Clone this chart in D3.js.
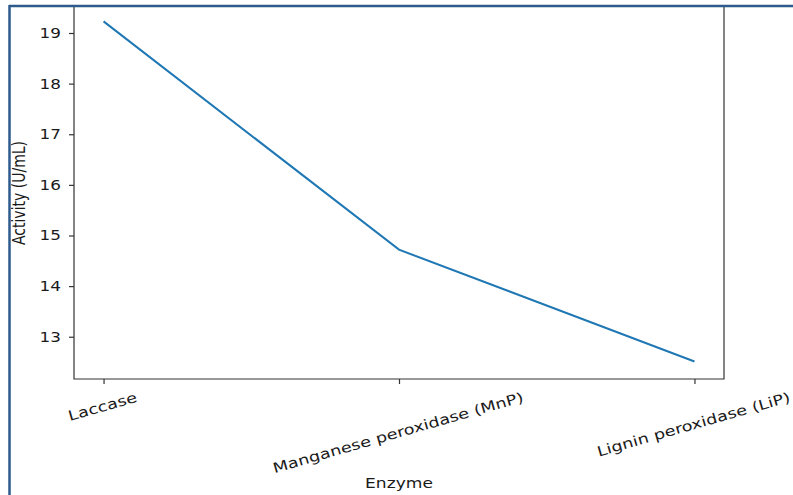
<!DOCTYPE html>
<html><head><meta charset="utf-8">
<script src="https://cdn.jsdelivr.net/npm/d3@7"></script>
<style>body{margin:0;background:#fff}svg{display:block}text{font-family:"DejaVu Sans",sans-serif;fill:#1a1a1a}</style>
</head><body>
<svg id="c" width="793" height="495"></svg>
<script>
const categories = ["Laccase", "Manganese peroxidase (MnP)", "Lignin peroxidase (LiP)"];
const activity = [19.23, 14.72, 12.51];
const yTicks = [13, 14, 15, 16, 17, 18, 19];
const xTitle = "Enzyme";
const yTitle = "Activity (U/mL)";

const svg = d3.select("#c");
const L = 74, R = 724, T = 4, B = 379;
const stretch = 1.2;

const x = d3.scalePoint().domain(categories).range([L, R]).padding(0.1);
const y = d3.scaleLinear().domain([12.165, 19.573]).range([B, T]);

// plot spines (top one hidden under the outer frame)
svg.append("path").attr("d", `M${L},6V${B}H${R}V6`)
  .attr("fill", "none").attr("stroke", "#333").attr("stroke-width", 1.2);

// y axis
const ya = svg.append("g").attr("transform", `translate(${L},0)`)
  .call(d3.axisLeft(y).tickValues(yTicks).tickSize(5).tickPadding(8).tickFormat(d3.format("d")));
ya.select(".domain").remove();
ya.selectAll(".tick line").attr("stroke", "#333").attr("stroke-width", 1.2);
ya.selectAll(".tick text").attr("font-size", 14).attr("fill", "#1a1a1a")
  .attr("font-family", "DejaVu Sans").each(function () {
    const w = this.getComputedTextLength();
    d3.select(this).attr("textLength", w * stretch).attr("lengthAdjust", "spacingAndGlyphs");
  });

// x axis ticks
const xa = svg.append("g").attr("transform", `translate(0,${B})`)
  .call(d3.axisBottom(x).tickSize(5).tickFormat(""));
xa.select(".domain").remove();
xa.selectAll(".tick line").attr("stroke", "#333").attr("stroke-width", 1.2);

// rotated x tick labels
const ang = 16, rad = ang * Math.PI / 180, lblTop = 389, fs = 14;
categories.forEach(c => {
  const t = svg.append("text").attr("font-size", fs).attr("text-anchor", "middle")
    .attr("dominant-baseline", "central").text(c);
  const w = t.node().getComputedTextLength() * 1.26;
  t.attr("textLength", w).attr("lengthAdjust", "spacingAndGlyphs");
  const H = w * Math.sin(rad) + 16 * Math.cos(rad);
  t.attr("transform", `translate(${x(c) - 1},${lblTop + H / 2}) rotate(${-ang})`);
});

// line
svg.append("path").datum(activity)
  .attr("d", d3.line().x((d, i) => x(categories[i])).y(d => y(d)))
  .attr("fill", "none").attr("stroke", "#1f77b4").attr("stroke-width", 2);

// axis titles
const xt = svg.append("text").attr("x", 399).attr("y", 488).attr("font-size", 14)
  .attr("text-anchor", "middle").text(xTitle);
xt.attr("textLength", xt.node().getComputedTextLength() * 1.22).attr("lengthAdjust", "spacingAndGlyphs");

svg.append("text").attr("font-size", 14).attr("text-anchor", "middle")
  .attr("dominant-baseline", "central")
  .attr("transform", `translate(20,193) scale(${stretch},1) rotate(-90)`).text(yTitle);

// blue outer frame
svg.append("line").attr("x1", 9).attr("x2", 793).attr("y1", 6).attr("y2", 6)
  .attr("stroke", "#2e5a8c").attr("stroke-width", 2.5);
svg.append("line").attr("x1", 9.5).attr("x2", 9.5).attr("y1", 5).attr("y2", 495)
  .attr("stroke", "#2e5a8c").attr("stroke-width", 2.5);
</script>
</body></html>
